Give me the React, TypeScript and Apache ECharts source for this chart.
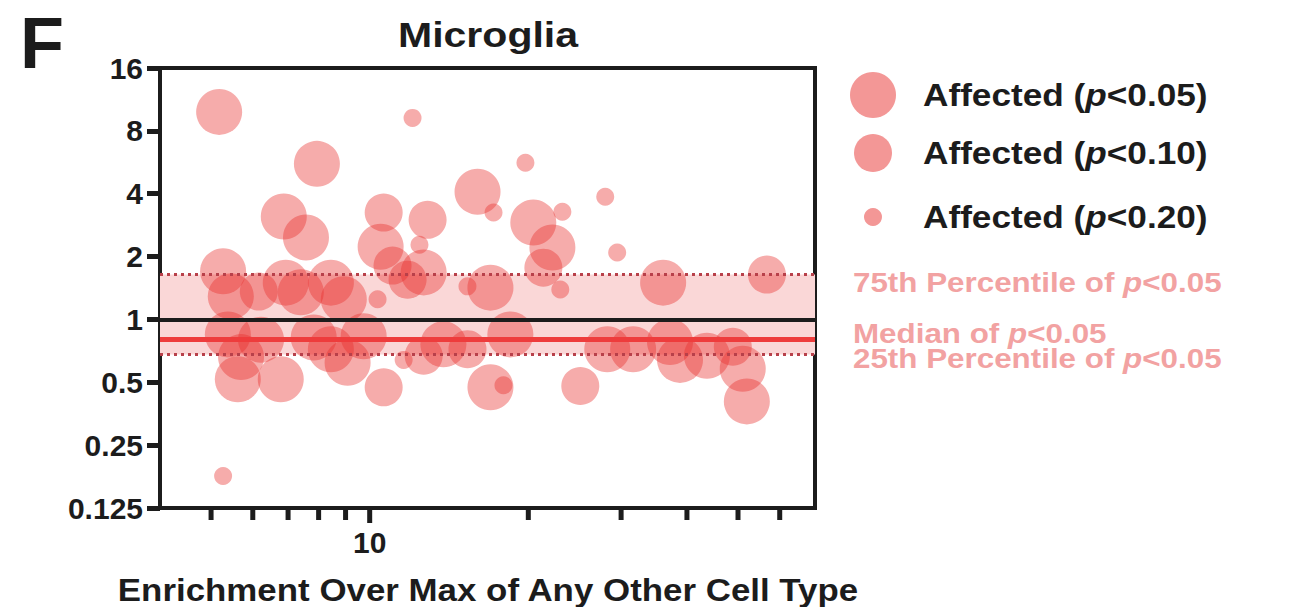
import React, { useEffect, useRef } from "react";
import * as echarts from "echarts";

// ---- data (x: enrichment over max of any other cell type, y: fold change) ----
const bubblesP05: [number, number][] = [
  [5.18, 9.86], [7.94, 5.56], [6.87, 3.11], [7.57, 2.47], [10.49, 2.23],
  [16.02, 4.09], [20.44, 2.91], [22.22, 2.21], [5.27, 1.7], [5.45, 1.29],
  [6.93, 1.5], [7.4, 1.35], [8.44, 1.5], [8.93, 1.25], [12.66, 1.68],
  [16.95, 1.42], [36.05, 1.5], [5.38, 0.848], [5.7, 0.66], [6.22, 0.8],
  [7.83, 0.82], [8.44, 0.72], [9.08, 0.62], [9.74, 0.83], [13.8, 0.76],
  [18.49, 0.848], [28.24, 0.72], [31.62, 0.72], [37.15, 0.78], [38.81, 0.64],
  [43.65, 0.67], [51.05, 0.58], [5.62, 0.517], [6.78, 0.517], [16.95, 0.473],
  [51.97, 0.405],
];
const bubblesP10: [number, number][] = [
  [10.63, 3.25], [12.88, 3.0], [21.36, 1.77], [11.05, 1.81], [6.16, 1.36],
  [11.8, 1.55], [56.74, 1.64], [12.66, 0.67], [15.33, 0.72], [48.88, 0.74],
  [10.63, 0.473], [25.1, 0.48],
];
const bubblesP20: [number, number][] = [
  [12.06, 9.23], [12.43, 2.28], [17.18, 3.25], [19.75, 5.63], [23.21, 3.28],
  [27.99, 3.87], [29.49, 2.09], [23.0, 1.39], [10.35, 1.25], [15.33, 1.44],
  [11.6, 0.64], [17.94, 0.484], [5.27, 0.178],
];
const pThresholds = ["0.05", "0.10", "0.20"];
const bubbleSizes = [46, 38, 18];

const yMin = 0.125;
const yMax = 16;
const xMin = 4;
const xMax = 70;
const xTickValues = [5, 6, 7, 8, 9, 10, 20, 30, 40, 50, 60];
const xLabeledTicks = [10];

const referenceValue = 1;
const medianP05 = 0.8;
const pct75P05 = 1.64;
const pct25P05 = 0.68;
const percentileLabels = ["75th Percentile of", "Median of", "25th Percentile of"];

const FONT = '"Liberation Sans", Arial, Helvetica, sans-serif';
const INK = "#1c1c1c";
const BUBBLE = "rgba(232,48,45,0.5)";
const PINK_TEXT = "#f2a2a2";

export default function App() {
  const ref = useRef<HTMLDivElement>(null);

  useEffect(() => {
    if (!ref.current) return;
    const chart = echarts.init(ref.current, undefined, { renderer: "svg" });

    const bubbleSets = [bubblesP05, bubblesP10, bubblesP20];
    const bubbleSeries = bubbleSets.map((d, i) => ({
      name: `Affected (p<${pThresholds[i]})`,
      type: "scatter",
      data: d,
      symbol: "circle",
      symbolSize: bubbleSizes[i],
      itemStyle: { color: BUBBLE },
      z: 3,
      silent: true,
    }));

    const richLegend = (size: number, color: string) => ({
      a: { font: `bold ${size}px ${FONT}`, fill: color, color },
      i: { font: `italic bold ${size}px ${FONT}`, fill: color, color },
    });

    const legendY = [95, 153, 217];
    const legendGraphics: any[] = [];
    pThresholds.forEach((t, i) => {
      legendGraphics.push({
        type: "circle",
        shape: { cx: 873, cy: legendY[i], r: bubbleSizes[i] / 2 },
        style: { fill: BUBBLE },
      });
      legendGraphics.push({
        type: "text",
        x: 923,
        y: legendY[i],
        scaleX: 1.1,
        style: {
          text: `{a|Affected (}{i|p}{a|<${t})}`,
          rich: richLegend(32, INK),
          textAlign: "left",
          textVerticalAlign: "middle",
          verticalAlign: "middle",
        },
      });
    });
    const pctY = [282, 333, 358];
    percentileLabels.forEach((lab, i) => {
      legendGraphics.push({
        type: "text",
        x: 853,
        y: pctY[i],
        scaleX: 1.12,
        style: {
          text: `{a|${lab} }{i|p}{a|<0.05}`,
          rich: richLegend(28, PINK_TEXT),
          textAlign: "left",
          textVerticalAlign: "middle",
          verticalAlign: "middle",
        },
      });
    });

    const option: any = {
      animation: false,
      backgroundColor: "#ffffff",
      grid: {
        left: 160,
        top: 68,
        width: 655,
        height: 440,
        show: true,
        borderColor: INK,
        borderWidth: 4,
        backgroundColor: "transparent",
      },
      xAxis: {
        type: "log",
        logBase: 10,
        min: xMin,
        max: xMax,
        axisLine: { show: true, lineStyle: { color: INK, width: 4 } },
        axisTick: { show: false },
        axisLabel: { show: false },
        splitLine: { show: false },
        minorTick: { show: false },
      },
      yAxis: {
        type: "log",
        logBase: 2,
        min: yMin,
        max: yMax,
        splitNumber: 7,
        axisLine: { show: true, lineStyle: { color: INK, width: 4 } },
        axisTick: { show: true, length: 13, lineStyle: { color: INK, width: 5 } },
        axisLabel: {
          show: true,
          color: INK,
          fontSize: 30,
          fontWeight: "bold",
          fontFamily: FONT,
          margin: 17,
          formatter: (v: number) => String(+Number(v).toPrecision(6)),
        },
        splitLine: { show: false },
      },
      graphic: [
        {
          type: "text",
          x: 20,
          y: 43,
          style: {
            text: "F",
            fill: INK,
            font: `bold 72px ${FONT}`,
            textAlign: "left",
            textVerticalAlign: "middle",
            verticalAlign: "middle",
          },
        },
        {
          type: "text",
          x: 488,
          y: 34,
          scaleX: 1.14,
          style: {
            text: "Microglia",
            fill: INK,
            font: `bold 36px ${FONT}`,
            textAlign: "center",
            textVerticalAlign: "middle",
            verticalAlign: "middle",
          },
        },
        {
          type: "text",
          x: 488,
          y: 590,
          scaleX: 1.09,
          style: {
            text: "Enrichment Over Max of Any Other Cell Type",
            fill: INK,
            font: `bold 32px ${FONT}`,
            textAlign: "center",
            textVerticalAlign: "middle",
            verticalAlign: "middle",
          },
        },
        ...legendGraphics,
      ],
      series: [
        {
          name: "band",
          type: "scatter",
          data: [],
          z: 1,
          silent: true,
          markArea: {
            silent: true,
            itemStyle: { color: "#fad7d7" },
            data: [[{ yAxis: pct25P05 }, { yAxis: pct75P05 }]],
          },
        },
        ...bubbleSeries,
        {
          name: "lines",
          type: "scatter",
          data: [],
          z: 5,
          silent: true,
          markLine: {
            silent: true,
            symbol: ["none", "none"],
            label: { show: false },
            data: [
              { yAxis: pct75P05, lineStyle: { color: "#b8404a", width: 3, type: [3, 4] } },
              { yAxis: pct25P05, lineStyle: { color: "#b8404a", width: 3, type: [3, 4] } },
              { yAxis: referenceValue, lineStyle: { color: INK, width: 4, type: "solid" } },
              { yAxis: medianP05, lineStyle: { color: "#ee3c3c", width: 5, type: "solid" } },
            ],
          },
        },
        {
          name: "xticks",
          type: "custom",
          clip: false,
          silent: true,
          z: 6,
          data: xTickValues.map((v) => [v, yMin]),
          encode: { x: 0, y: 1 },
          renderItem: (params: any, api: any) => {
            const v = api.value(0);
            const p = api.coord([v, yMin]);
            const major = xLabeledTicks.indexOf(v) >= 0;
            const children: any[] = [
              {
                type: "line",
                shape: { x1: p[0], y1: p[1], x2: p[0], y2: p[1] + (major ? 15 : 12) },
                style: { stroke: INK, lineWidth: 5 },
              },
            ];
            if (major) {
              children.push({
                type: "text",
                x: p[0],
                y: p[1] + 34,
                style: {
                  text: String(v),
                  fill: INK,
                  font: `bold 30px ${FONT}`,
                  textAlign: "center",
                  textVerticalAlign: "middle",
                  verticalAlign: "middle",
                },
              });
            }
            return { type: "group", children };
          },
        },
      ],
    };

    chart.setOption(option);
    return () => chart.dispose();
  }, []);

  return (
    <div
      ref={ref}
      style={{ position: "fixed", left: 0, top: 0, width: 1293, height: 607, background: "#fff" }}
    />
  );
}
